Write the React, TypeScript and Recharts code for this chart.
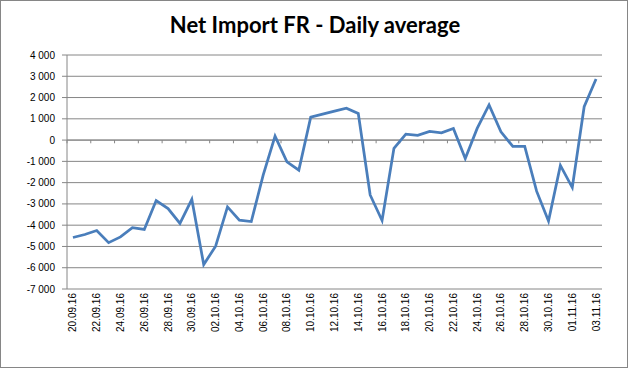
import React from "react";
import { ComposedChart, Line, XAxis, YAxis, CartesianGrid, ReferenceLine } from "recharts";

// dates as printed on the category axis
const dates = [
  "20.09.16", "21.09.16", "22.09.16", "23.09.16", "24.09.16", "25.09.16", "26.09.16", "27.09.16",
  "28.09.16", "29.09.16", "30.09.16", "01.10.16", "02.10.16", "03.10.16", "04.10.16", "05.10.16",
  "06.10.16", "07.10.16", "08.10.16", "09.10.16", "10.10.16", "11.10.16", "12.10.16", "13.10.16",
  "14.10.16", "15.10.16", "16.10.16", "17.10.16", "18.10.16", "19.10.16", "20.10.16", "21.10.16",
  "22.10.16", "23.10.16", "24.10.16", "25.10.16", "26.10.16", "27.10.16", "28.10.16", "29.10.16",
  "30.10.16", "31.10.16", "01.11.16", "02.11.16", "03.11.16",
];

// net import, MW
const netImport = [
  -4580, -4440, -4250, -4820, -4550, -4120, -4200, -2840,
  -3220, -3920, -2790, -5850, -4990, -3140, -3760, -3830,
  -1650, 190, -1020, -1410, 1080, 1220, 1360, 1500,
  1250, -2580, -3780, -390, 280, 220, 410, 345,
  550, -870, 550, 1650, 390, -300, -300, -2400,
  -3800, -1190, -2230, 1570, 2870,
];

const yTicks = [-7000, -6000, -5000, -4000, -3000, -2000, -1000, 0, 1000, 2000, 3000, 4000];

// tick marks on the zero line, every second category boundary
const tickDates = dates.filter((_, i) => i % 2 === 0);

const data = dates.map((d, i) => ({ date: d, value: netImport[i] }));

const fmt = (v: number) => {
  const s = Math.abs(v).toString().replace(/\B(?=(\d{3})+(?!\d))/g, " ");
  return v < 0 ? `-${s}` : s;
};

const DateTick = (props: any) => {
  const { x, y, payload } = props;
  return (
    <g transform={`translate(${x},${y})`}>
      <text
        transform="rotate(-90)"
        textAnchor="end"
        dy="0.35em"
        fontSize={10}
        fontFamily="Liberation Sans, Arial, sans-serif"
        fill="#000"
      >
        {payload.value}
      </text>
    </g>
  );
};

export default function App() {
  return (
    <div
      style={{
        position: "absolute",
        left: 0,
        top: 0,
        width: 628,
        height: 368,
        background: "#fff",
        boxSizing: "border-box",
        border: "1px solid #868686",
      }}
    >
      <div
        style={{
          position: "absolute",
          top: 10,
          left: 0,
          width: 628,
          textAlign: "center",
          fontFamily: "Lato, sans-serif",
          fontWeight: 700,
          fontSize: 22,
          color: "#000",
        }}
      >
        Net Import FR - Daily average
      </div>
      <div style={{ position: "absolute", left: -1, top: -1 }}>
        <ComposedChart
          width={628}
          height={368}
          data={data}
          margin={{ top: 55, right: 26, bottom: 19, left: 0 }}
        >
          <CartesianGrid vertical={false} stroke="#868686" strokeWidth={1} />
          <XAxis
            dataKey="date"
            scale="band"
            interval={1}
            axisLine={false}
            tickLine={false}
            tickSize={0}
            tickMargin={4}
            height={60}
            tick={<DateTick />}
          />
          <YAxis
            domain={[-7000, 4000]}
            ticks={yTicks}
            tickFormatter={fmt}
            width={67}
            stroke="#868686"
            tickSize={5}
            tickMargin={7}
            tick={{ fontSize: 10, fill: "#000", fontFamily: "Liberation Sans, Arial, sans-serif" }}
            interval={0}
          />
          <ReferenceLine y={0} stroke="#868686" />
          {tickDates.map((d) => (
            <ReferenceLine
              key={d}
              position="start"
              segment={[
                { x: d, y: 0 },
                { x: d, y: -150 },
              ]}
              stroke="#868686"
            />
          ))}
          <Line
            type="linear"
            dataKey="value"
            stroke="#4A7EBB"
            strokeWidth={2.75}
            dot={false}
            isAnimationActive={false}
          />
        </ComposedChart>
      </div>
    </div>
  );
}
